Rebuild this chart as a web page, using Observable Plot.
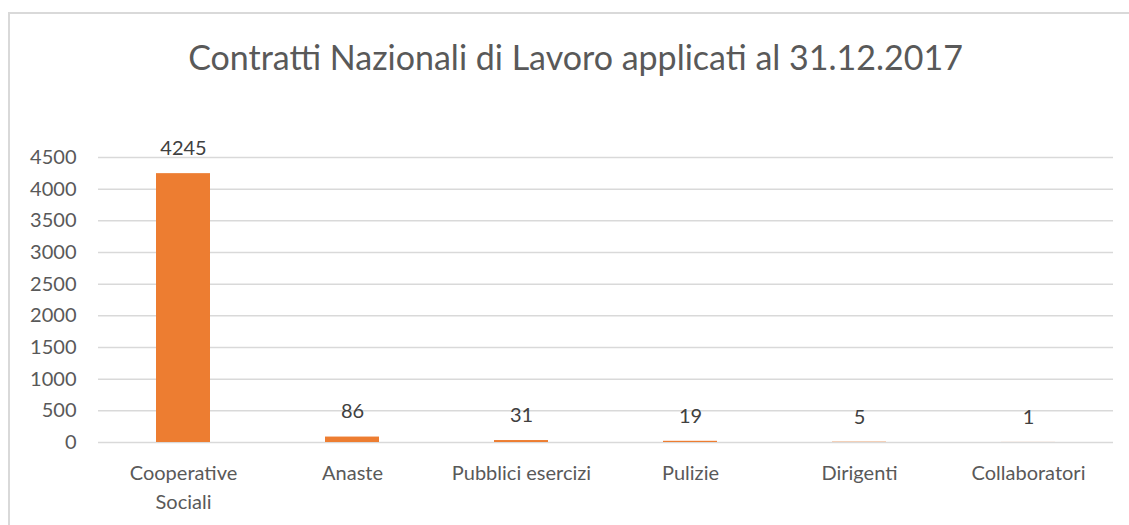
<!DOCTYPE html>
<html>
<head>
<meta charset="utf-8">
<script src="https://cdn.jsdelivr.net/npm/d3@7"></script>
<script src="https://cdn.jsdelivr.net/npm/@observablehq/plot@0.6"></script>
<style>
  html, body { margin: 0; padding: 0; background: #fff; }
  body { width: 1129px; height: 525px; position: relative; overflow: hidden; font-family: Lato, "Open Sans", sans-serif; }
  #frame { position: absolute; left: 8px; top: 12px; width: 1200px; height: 600px; border: 2px solid #d9d9d9; box-sizing: border-box; }
  #title { position: absolute; left: 0; top: 40px; width: 1151px; text-align: center; font-size: 34px; line-height: 1; color: #595959; white-space: nowrap; }
  #chart { position: absolute; left: 0; top: 100px; }
</style>
</head>
<body>
<div id="frame"></div>
<div id="title">Contratti Nazionali di Lavoro applicati al 31.12.2017</div>
<div id="chart"></div>
<script>
const categories = ["Cooperative Sociali", "Anaste", "Pubblici esercizi", "Pulizie", "Dirigenti", "Collaboratori"];
const categoryLabels = ["Cooperative\nSociali", "Anaste", "Pubblici esercizi", "Pulizie", "Dirigenti", "Collaboratori"];
const values = [4245, 86, 31, 19, 5, 1];
const yTicks = [0, 500, 1000, 1500, 2000, 2500, 3000, 3500, 4000, 4500];

const data = categories.map((c, i) => ({category: c, value: values[i]}));
const labelOf = new Map(categories.map((c, i) => [c, categoryLabels[i]]));

const chart = Plot.plot({
  width: 1129,
  height: 425,
  marginTop: 57,
  marginBottom: 83,
  marginLeft: 98,
  marginRight: 16,
  style: { fontFamily: "Lato, 'Open Sans', sans-serif", background: "transparent" },
  x: { domain: categories, paddingInner: 0.68, paddingOuter: 0.34, label: null },
  y: { domain: [0, 4500], label: null },
  marks: [
    Plot.gridY(yTicks, { stroke: "#d9d9d9", strokeOpacity: 1, strokeWidth: 1.5 }),
    Plot.barY(data, { x: "category", y: "value", fill: "#ED7D31" }),
    Plot.text(data, { x: "category", y: "value", text: d => String(d.value), dy: -25, fontSize: 20, fill: "#404040" }),
    Plot.axisY(yTicks, { tickSize: 0, tickPadding: 22, fontSize: 20, color: "#595959", label: null, tickFormat: d => String(d) }),
    Plot.axisX({ tickSize: 0, tickPadding: 17, fontSize: 20, color: "#595959", lineHeight: 1.45, tickFormat: c => labelOf.get(c), label: null })
  ]
});
document.getElementById("chart").appendChild(chart);
</script>
</body>
</html>
